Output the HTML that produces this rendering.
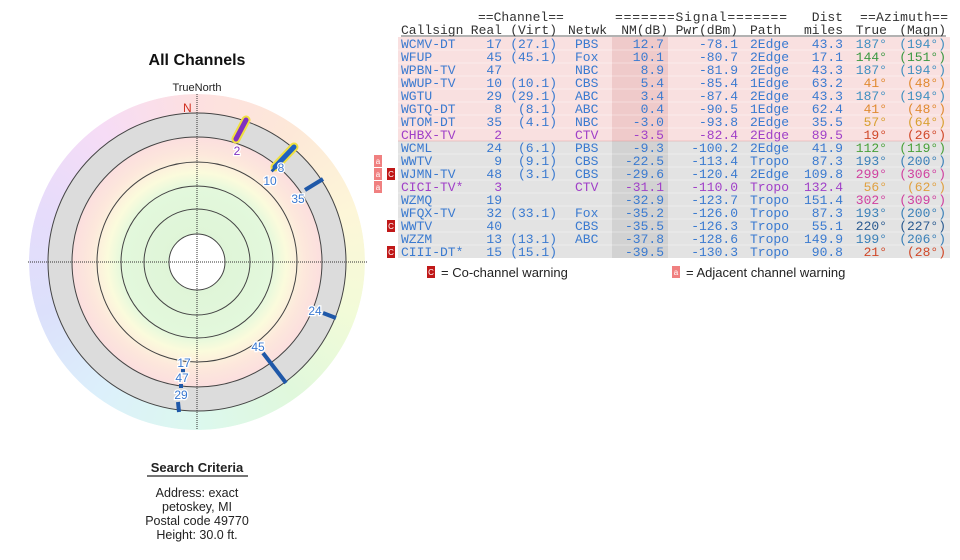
<!DOCTYPE html>
<html><head><meta charset="utf-8"><style>
html,body{margin:0;padding:0;background:#fff;width:960px;height:560px;overflow:hidden}
svg{display:block}
.m{font-family:"Liberation Mono",monospace;font-size:13px}
.s{font-family:"Liberation Sans",sans-serif}
</style></head><body>
<svg width="960" height="560" viewBox="0 0 960 560" xmlns="http://www.w3.org/2000/svg">
<defs>
<radialGradient id="rg" cx="197" cy="262" r="149" gradientUnits="userSpaceOnUse">
<stop offset="0.19" stop-color="#dff5d8"/>
<stop offset="0.5" stop-color="#e3f8dc"/>
<stop offset="0.6" stop-color="#fbfbdc"/>
<stop offset="0.72" stop-color="#fde8dc"/>
<stop offset="0.84" stop-color="#fbdede"/>
</radialGradient>
<clipPath id="ring"><path d="M197,94 a168,168 0 1,1 -0.1,0 z M197,113 a149,149 0 1,0 0.1,0 z" clip-rule="evenodd"/></clipPath>
</defs>
<foreignObject x="29" y="94" width="336" height="336" clip-path="url(#ring)">
<div xmlns="http://www.w3.org/1999/xhtml" style="width:336px;height:336px;border-radius:50%;background:conic-gradient(#fde0e0,#fde8d8,#fdf6d8,#f2fbd8,#e0f8dc,#dcf8ee,#dcf0fb,#dce0fb,#e6dcfb,#f6dcf6,#fde0e0)"></div>
</foreignObject>
<circle cx="197" cy="262" r="149" fill="url(#rg)"/>
<path d="M197,113 a149,149 0 1,1 -0.1,0 z M197,137 a125,125 0 1,0 0.1,0 z" fill="#dcdcdc" fill-rule="evenodd"/>
<circle cx="197" cy="262" r="28" fill="#fff"/>
<g fill="none" stroke="#444" stroke-width="1">
<circle cx="197" cy="262" r="149"/><circle cx="197" cy="262" r="125"/><circle cx="197" cy="262" r="100"/>
<circle cx="197" cy="262" r="76"/><circle cx="197" cy="262" r="53"/><circle cx="197" cy="262" r="28"/>
</g>
<g stroke="#333" stroke-width="1" stroke-dasharray="1,1">
<line x1="28" y1="262" x2="368" y2="262"/><line x1="197" y1="94" x2="197" y2="430"/>
</g>
<text x="183" y="112" class="s" font-size="12" fill="#d03020">N</text>
<text x="197" y="91" class="s" font-size="11" fill="#222" text-anchor="middle">TrueNorth</text>
<text x="197" y="65" class="s" font-size="16" font-weight="bold" fill="#111" text-anchor="middle">All Channels</text>
<g stroke-linecap="round">
<line x1="236" y1="139" x2="246" y2="120" stroke="#f0e040" stroke-width="9"/>
<line x1="236" y1="139" x2="246" y2="120" stroke="#8030c0" stroke-width="5"/>
<line x1="275" y1="167" x2="294" y2="147" stroke="#f0e040" stroke-width="9"/>
<line x1="275" y1="167" x2="294" y2="147" stroke="#2060c0" stroke-width="5"/>
</g>
<g stroke="#1f58a8" stroke-width="4">
<line x1="305" y1="190" x2="323" y2="179"/>
<line x1="323" y1="313" x2="336" y2="318"/>
<line x1="263" y1="353" x2="286" y2="383"/>
<line x1="178" y1="402" x2="179" y2="412"/>
<line x1="183" y1="369" x2="183" y2="373"/>
<line x1="181" y1="384" x2="181" y2="388"/>
<line x1="272" y1="169" x2="274" y2="171"/>
</g>
<g class="s" font-size="12" fill="#3a78d0" text-anchor="middle" stroke="#fff" stroke-width="2.5" paint-order="stroke">
<text x="237" y="155" fill="#8030c0">2</text>
<text x="281" y="172">8</text>
<text x="270" y="185">10</text>
<text x="298" y="203">35</text>
<text x="315" y="315">24</text>
<text x="258" y="351">45</text>
<text x="184" y="367">17</text>
<text x="182" y="382">47</text>
<text x="181" y="399">29</text>
</g>
<text x="197" y="472" class="s" font-size="13" font-weight="bold" fill="#222" text-anchor="middle">Search Criteria</text>
<line x1="147" y1="476" x2="248" y2="476" stroke="#222" stroke-width="1.3"/>
<g class="s" font-size="12.5" fill="#222" text-anchor="middle">
<text x="197" y="497">Address: exact</text>
<text x="197" y="511">petoskey, MI</text>
<text x="197" y="525">Postal code 49770</text>
<text x="197" y="539">Height: 30.0 ft.</text>
</g>
<rect x="398" y="37" width="552" height="104" fill="#f9e0e0"/>
<rect x="398" y="141" width="552" height="117" fill="#e3e3e3"/>
<rect x="612" y="37" width="56" height="104" fill="#efcaca"/>
<rect x="612" y="141" width="56" height="117" fill="#d2d2d2"/>
<g stroke="#fff" stroke-width="0.6" opacity="0.7">
<line x1="398" y1="50" x2="950" y2="50"/><line x1="398" y1="63" x2="950" y2="63"/><line x1="398" y1="76" x2="950" y2="76"/><line x1="398" y1="89" x2="950" y2="89"/><line x1="398" y1="102" x2="950" y2="102"/><line x1="398" y1="115" x2="950" y2="115"/><line x1="398" y1="128" x2="950" y2="128"/><line x1="398" y1="141" x2="950" y2="141" stroke="#d88" opacity="1"/><line x1="398" y1="154" x2="950" y2="154"/><line x1="398" y1="167" x2="950" y2="167"/><line x1="398" y1="180" x2="950" y2="180"/><line x1="398" y1="193" x2="950" y2="193"/><line x1="398" y1="206" x2="950" y2="206"/><line x1="398" y1="219" x2="950" y2="219"/><line x1="398" y1="232" x2="950" y2="232"/><line x1="398" y1="245" x2="950" y2="245"/>
</g>
<g class="m" fill="#333">
<text x="478" y="21">==Channel==</text>
<text x="615" y="21" textLength="172">=======Signal=======</text>
<text x="843" y="21" text-anchor="end">Dist</text>
<text x="860" y="21" textLength="88">==Azimuth==</text>
<text x="401" y="34">Callsign</text>
<text x="502" y="34" text-anchor="end">Real</text>
<text x="557" y="34" text-anchor="end">(Virt)</text>
<text x="568" y="34">Netwk</text>
<text x="668" y="34" text-anchor="end">NM(dB)</text>
<text x="738" y="34" text-anchor="end">Pwr(dBm)</text>
<text x="750" y="34">Path</text>
<text x="843" y="34" text-anchor="end">miles</text>
<text x="887" y="34" text-anchor="end">True</text>
<text x="946" y="34" text-anchor="end">(Magn)</text>
</g>
<line x1="401" y1="36" x2="946" y2="36" stroke="#333" stroke-width="0.8"/>
<g class="m" fill="#3a7ad0">
<g transform="translate(0,48)"><text x="401">WCMV-DT</text><text x="502" text-anchor="end">17</text><text x="557" text-anchor="end">(27.1)</text><text x="575">PBS</text><text x="664" text-anchor="end">12.7</text><text x="738" text-anchor="end">-78.1</text><text x="750">2Edge</text><text x="843" text-anchor="end">43.3</text><text x="887" text-anchor="end" fill="#3f8fc0">187°</text><text x="946" text-anchor="end" fill="#3f8fc0">(194°)</text></g>
<g transform="translate(0,61)"><text x="401">WFUP</text><text x="502" text-anchor="end">45</text><text x="557" text-anchor="end">(45.1)</text><text x="575">Fox</text><text x="664" text-anchor="end">10.1</text><text x="738" text-anchor="end">-80.7</text><text x="750">2Edge</text><text x="843" text-anchor="end">17.1</text><text x="887" text-anchor="end" fill="#3a9840">144°</text><text x="946" text-anchor="end" fill="#3a9840">(151°)</text></g>
<g transform="translate(0,74)"><text x="401">WPBN-TV</text><text x="502" text-anchor="end">47</text><text x="575">NBC</text><text x="664" text-anchor="end">8.9</text><text x="738" text-anchor="end">-81.9</text><text x="750">2Edge</text><text x="843" text-anchor="end">43.3</text><text x="887" text-anchor="end" fill="#3f8fc0">187°</text><text x="946" text-anchor="end" fill="#3f8fc0">(194°)</text></g>
<g transform="translate(0,87)"><text x="401">WWUP-TV</text><text x="502" text-anchor="end">10</text><text x="557" text-anchor="end">(10.1)</text><text x="575">CBS</text><text x="664" text-anchor="end">5.4</text><text x="738" text-anchor="end">-85.4</text><text x="750">1Edge</text><text x="843" text-anchor="end">63.2</text><text x="887" text-anchor="end" fill="#e08a30">41°</text><text x="946" text-anchor="end" fill="#e08a30">(48°)</text></g>
<g transform="translate(0,100)"><text x="401">WGTU</text><text x="502" text-anchor="end">29</text><text x="557" text-anchor="end">(29.1)</text><text x="575">ABC</text><text x="664" text-anchor="end">3.4</text><text x="738" text-anchor="end">-87.4</text><text x="750">2Edge</text><text x="843" text-anchor="end">43.3</text><text x="887" text-anchor="end" fill="#3f8fc0">187°</text><text x="946" text-anchor="end" fill="#3f8fc0">(194°)</text></g>
<g transform="translate(0,113)"><text x="401">WGTQ-DT</text><text x="502" text-anchor="end">8</text><text x="557" text-anchor="end">(8.1)</text><text x="575">ABC</text><text x="664" text-anchor="end">0.4</text><text x="738" text-anchor="end">-90.5</text><text x="750">1Edge</text><text x="843" text-anchor="end">62.4</text><text x="887" text-anchor="end" fill="#e08a30">41°</text><text x="946" text-anchor="end" fill="#e08a30">(48°)</text></g>
<g transform="translate(0,126)"><text x="401">WTOM-DT</text><text x="502" text-anchor="end">35</text><text x="557" text-anchor="end">(4.1)</text><text x="575">NBC</text><text x="664" text-anchor="end">-3.0</text><text x="738" text-anchor="end">-93.8</text><text x="750">2Edge</text><text x="843" text-anchor="end">35.5</text><text x="887" text-anchor="end" fill="#d8a030">57°</text><text x="946" text-anchor="end" fill="#d8a030">(64°)</text></g>
<g transform="translate(0,139)" fill="#a040c8"><text x="401">CHBX-TV</text><text x="502" text-anchor="end">2</text><text x="575">CTV</text><text x="664" text-anchor="end">-3.5</text><text x="738" text-anchor="end">-82.4</text><text x="750">2Edge</text><text x="843" text-anchor="end">89.5</text><text x="887" text-anchor="end" fill="#d04828">19°</text><text x="946" text-anchor="end" fill="#d04828">(26°)</text></g>
<g transform="translate(0,152)"><text x="401">WCML</text><text x="502" text-anchor="end">24</text><text x="557" text-anchor="end">(6.1)</text><text x="575">PBS</text><text x="664" text-anchor="end">-9.3</text><text x="738" text-anchor="end">-100.2</text><text x="750">2Edge</text><text x="843" text-anchor="end">41.9</text><text x="887" text-anchor="end" fill="#48a038">112°</text><text x="946" text-anchor="end" fill="#48a038">(119°)</text></g>
<g transform="translate(0,165)"><text x="401">WWTV</text><text x="502" text-anchor="end">9</text><text x="557" text-anchor="end">(9.1)</text><text x="575">CBS</text><text x="664" text-anchor="end">-22.5</text><text x="738" text-anchor="end">-113.4</text><text x="750">Tropo</text><text x="843" text-anchor="end">87.3</text><text x="887" text-anchor="end" fill="#3a80b8">193°</text><text x="946" text-anchor="end" fill="#3a80b8">(200°)</text></g>
<g transform="translate(0,178)"><text x="401">WJMN-TV</text><text x="502" text-anchor="end">48</text><text x="557" text-anchor="end">(3.1)</text><text x="575">CBS</text><text x="664" text-anchor="end">-29.6</text><text x="738" text-anchor="end">-120.4</text><text x="750">2Edge</text><text x="843" text-anchor="end">109.8</text><text x="887" text-anchor="end" fill="#d040a0">299°</text><text x="946" text-anchor="end" fill="#d040a0">(306°)</text></g>
<g transform="translate(0,191)" fill="#a040c8"><text x="401">CICI-TV*</text><text x="502" text-anchor="end">3</text><text x="575">CTV</text><text x="664" text-anchor="end">-31.1</text><text x="738" text-anchor="end">-110.0</text><text x="750">Tropo</text><text x="843" text-anchor="end">132.4</text><text x="887" text-anchor="end" fill="#e0a040">56°</text><text x="946" text-anchor="end" fill="#e0a040">(62°)</text></g>
<g transform="translate(0,204)"><text x="401">WZMQ</text><text x="502" text-anchor="end">19</text><text x="664" text-anchor="end">-32.9</text><text x="738" text-anchor="end">-123.7</text><text x="750">Tropo</text><text x="843" text-anchor="end">151.4</text><text x="887" text-anchor="end" fill="#d040a0">302°</text><text x="946" text-anchor="end" fill="#d040a0">(309°)</text></g>
<g transform="translate(0,217)"><text x="401">WFQX-TV</text><text x="502" text-anchor="end">32</text><text x="557" text-anchor="end">(33.1)</text><text x="575">Fox</text><text x="664" text-anchor="end">-35.2</text><text x="738" text-anchor="end">-126.0</text><text x="750">Tropo</text><text x="843" text-anchor="end">87.3</text><text x="887" text-anchor="end" fill="#3a80b8">193°</text><text x="946" text-anchor="end" fill="#3a80b8">(200°)</text></g>
<g transform="translate(0,230)"><text x="401">WWTV</text><text x="502" text-anchor="end">40</text><text x="575">CBS</text><text x="664" text-anchor="end">-35.5</text><text x="738" text-anchor="end">-126.3</text><text x="750">Tropo</text><text x="843" text-anchor="end">55.1</text><text x="887" text-anchor="end" fill="#2a5a90">220°</text><text x="946" text-anchor="end" fill="#2a5a90">(227°)</text></g>
<g transform="translate(0,243)"><text x="401">WZZM</text><text x="502" text-anchor="end">13</text><text x="557" text-anchor="end">(13.1)</text><text x="575">ABC</text><text x="664" text-anchor="end">-37.8</text><text x="738" text-anchor="end">-128.6</text><text x="750">Tropo</text><text x="843" text-anchor="end">149.9</text><text x="887" text-anchor="end" fill="#3a80b8">199°</text><text x="946" text-anchor="end" fill="#3a80b8">(206°)</text></g>
<g transform="translate(0,256)"><text x="401">CIII-DT*</text><text x="502" text-anchor="end">15</text><text x="557" text-anchor="end">(15.1)</text><text x="664" text-anchor="end">-39.5</text><text x="738" text-anchor="end">-130.3</text><text x="750">Tropo</text><text x="843" text-anchor="end">90.8</text><text x="887" text-anchor="end" fill="#d04828">21°</text><text x="946" text-anchor="end" fill="#d04828">(28°)</text></g>
</g>
<g class="s" font-size="8" text-anchor="middle">
<rect x="374" y="155" width="8" height="12" fill="#f08080"/><text x="378" y="164" fill="#fff">a</text>
<rect x="374" y="168" width="8" height="12" fill="#f08080"/><text x="378" y="177" fill="#fff">a</text>
<rect x="374" y="181" width="8" height="12" fill="#f08080"/><text x="378" y="190" fill="#fff">a</text>
<rect x="387" y="168" width="8" height="12" fill="#c01818"/><text x="391" y="177" fill="#fff">C</text>
<rect x="387" y="220" width="8" height="12" fill="#c01818"/><text x="391" y="229" fill="#fff">C</text>
<rect x="387" y="246" width="8" height="12" fill="#c01818"/><text x="391" y="255" fill="#fff">C</text>
<rect x="427" y="266" width="8" height="12" fill="#c01818"/><text x="431" y="275" fill="#fff">C</text>
<rect x="672" y="266" width="8" height="12" fill="#f08080"/><text x="676" y="275" fill="#fff">a</text>
</g>
<text x="441" y="277" class="s" font-size="13" fill="#222">= Co-channel warning</text>
<text x="686" y="277" class="s" font-size="13" fill="#222">= Adjacent channel warning</text>
</svg>
</body></html>
